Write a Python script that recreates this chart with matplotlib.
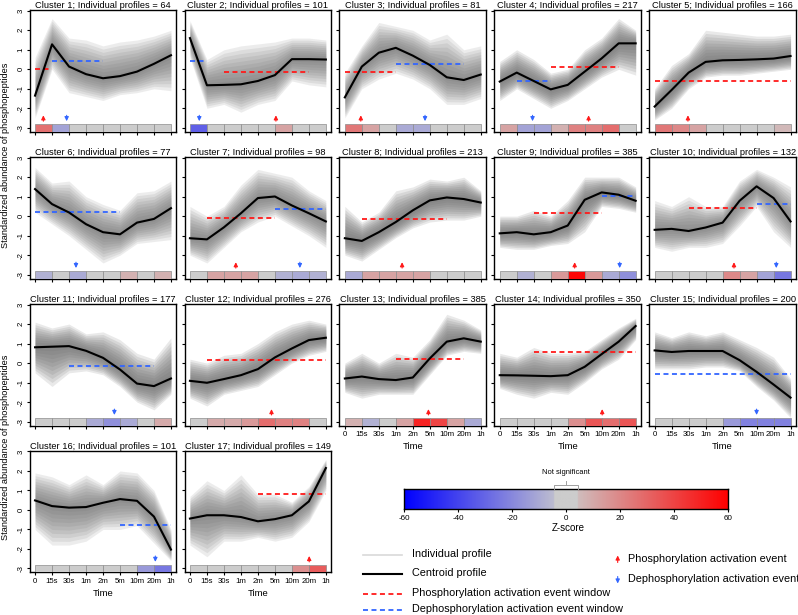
import numpy as np
import matplotlib
matplotlib.use('Agg')
import matplotlib.pyplot as plt
from matplotlib.colors import ListedColormap

plt.rcParams['font.family'] = ['Liberation Sans', 'DejaVu Sans']
plt.rcParams['lines.scale_dashes'] = False

# ---------------- data ----------------
time_labels = ['0', '15s', '30s', '1m', '2m', '5m', '10m', '20m', '1h']
cluster_sizes = [64, 101, 81, 217, 166, 77, 98, 213, 385, 132, 177, 276, 385, 350, 200, 101, 149]

centroids = [
    [-1.35, 1.28, 0.14, -0.25, -0.46, -0.35, -0.12, 0.28, 0.72],
    [1.6, -0.82, -0.8, -0.77, -0.6, -0.3, 0.52, 0.52, 0.5],
    [-1.44, 0.14, 0.85, 1.1, 0.7, 0.22, -0.41, -0.55, -0.27],
    [-0.63, -0.17, -0.6, -1.03, -0.8, -0.12, 0.56, 1.33, 1.33],
    [-1.91, -1.06, -0.17, 0.38, 0.46, 0.48, 0.51, 0.55, 0.68],
    [1.39, 0.62, 0.19, -0.41, -0.82, -0.93, -0.33, -0.14, 0.41],
    [-1.13, -1.19, -0.57, 0.15, 0.93, 1.01, 0.55, 0.15, -0.27],
    [-1.13, -1.27, -0.82, -0.3, 0.3, 0.81, 0.96, 0.88, 0.7],
    [-0.88, -0.82, -0.93, -0.82, -0.48, 0.84, 1.22, 1.1, 0.79],
    [-0.7, -0.65, -0.76, -0.58, -0.33, 0.79, 1.53, 0.93, -0.27],
    [0.81, 0.84, 0.87, 0.63, 0.27, -0.33, -1.05, -1.18, -0.79],
    [-0.91, -1.01, -0.82, -0.62, -0.31, 0.29, 0.75, 1.18, 1.3],
    [-0.79, -0.69, -0.82, -0.87, -0.74, 0.24, 1.1, 1.27, 1.1],
    [-0.62, -0.63, -0.65, -0.67, -0.62, -0.19, 0.46, 1.1, 1.9],
    [0.65, 0.57, 0.62, 0.62, 0.62, 0.15, -0.45, -1.1, -1.77],
    [0.49, 0.2, 0.12, 0.15, 0.37, 0.56, 0.47, -0.34, -2.03],
    [-0.44, -0.27, -0.27, -0.36, -0.58, -0.47, -0.27, 0.44, 2.15],
]

profiles_upper = [
    [0.6, 2.6, 1.6, 1.5, 1.2, 1.4, 1.5, 1.7, 2.0],
    [2.5, 0.5, 1.0, 1.2, 1.3, 1.4, 1.6, 1.6, 1.5],
    [-0.2, 1.2, 2.4, 2.2, 2.0, 1.5, 1.8, 1.0, 1.2],
    [0.4, 1.0, 0.5, -0.2, 0.0, 1.0, 1.6, 2.6, 2.0],
    [-1.0, 0.2, 0.8, 2.0, 1.9, 1.8, 1.7, 1.7, 1.8],
    [2.5, 1.7, 1.8, 1.0, 0.6, 0.3, 1.2, 1.3, 1.8],
    [0.5, 0.0, 0.5, 1.6, 2.4, 2.2, 2.0, 1.3, 0.8],
    [0.5, -0.3, 0.2, 1.3, 1.5, 1.9, 1.8, 2.0, 1.3],
    [0.0, 0.0, 0.3, 0.0, 0.8, 2.0, 2.0, 2.0, 1.5],
    [0.8, 0.5, 1.0, 0.5, 0.5, 1.8, 2.4, 2.0, 1.5],
    [2.1, 1.8, 2.0, 1.5, 1.6, 1.2, 0.5, 0.2, 1.3],
    [0.2, 0.0, 0.4, 0.5, 1.0, 1.6, 2.0, 2.2, 2.0],
    [0.0, 0.5, 0.0, 0.5, 0.3, 1.2, 2.5, 2.2, 1.7],
    [0.5, 0.3, 0.8, 0.5, 0.5, 0.6, 1.2, 1.8, 2.3],
    [1.6, 1.3, 1.6, 1.4, 1.6, 1.2, 0.8, 0.3, -0.8],
    [1.9, 1.7, 1.3, 1.8, 1.3, 2.0, 1.9, 1.0, -1.0],
    [0.7, 1.5, 1.0, 1.8, 0.8, 0.8, 0.4, 1.2, 2.6],
]

profiles_lower = [
    [-2.5, 0.0, -1.2, -1.4, -1.6, -1.3, -1.2, -1.0, -1.1],
    [0.6, -2.0, -1.8, -2.2, -1.8, -1.6, -0.6, -0.8, -0.9],
    [-2.5, -1.0, -0.5, -0.2, -0.5, -1.0, -1.8, -1.8, -1.5],
    [-1.6, -1.0, -1.5, -2.0, -1.6, -1.0, -0.4, 0.0, -0.3],
    [-2.6, -2.0, -1.0, -0.4, -0.3, -0.3, -0.2, -0.1, 0.0],
    [0.2, -0.4, -1.0, -1.7, -2.4, -2.0, -1.4, -1.3, -1.2],
    [-2.0, -2.4, -1.6, -0.8, -0.3, 0.0, -0.5, -1.0, -1.6],
    [-2.0, -2.3, -1.7, -1.1, -0.6, -0.3, -0.2, -0.2, 0.0],
    [-1.6, -1.7, -1.7, -1.5, -1.4, -0.8, 0.5, 0.4, 0.2],
    [-1.6, -1.8, -1.6, -1.6, -1.4, -0.5, 0.5, -0.8, -1.6],
    [-0.5, -1.2, -0.5, -0.4, -0.6, -1.2, -2.0, -2.4, -1.6],
    [-1.8, -2.2, -1.6, -1.4, -1.2, -0.6, 0.0, 0.4, 0.6],
    [-1.5, -1.8, -1.6, -1.6, -1.6, -0.6, 0.4, 0.6, 0.5],
    [-1.3, -1.6, -1.8, -1.5, -1.6, -1.0, -0.3, 0.2, 1.2],
    [-0.3, -0.3, -0.3, -0.2, -0.2, -0.4, -1.2, -1.9, -2.8],
    [-1.0, -1.8, -1.8, -1.6, -1.0, -1.0, -0.8, -1.7, -2.6],
    [-1.8, -2.4, -1.6, -1.6, -1.4, -1.6, -1.4, -0.6, 1.0],
]

# (start time index, end time index, level) ; None = no window
phos_windows = [(1, 2, 0.0), (3, 8, -0.12), (1, 4, -0.14), (4, 8, 0.14), (1, 9, -0.58),
                None, (2, 6, -0.07), (2, 7, -0.14), (3, 7, 0.15), (3, 7, 0.41),
                None, (2, 9, 0.15), (4, 8, 0.21), (3, 9, 0.58), None, None, (5, 9, 0.8)]
dephos_windows = [(2, 5, 0.40), (1, 2, 0.40), (4, 8, 0.26), (2, 4, -0.6), None,
                  (1, 6, 0.22), (6, 9, 0.38), None, (7, 9, 1.01), (7, 9, 0.64),
                  (3, 8, -0.17), None, None, None, (1, 9, -0.57), (6, 9, -0.75), None]

phos_events = [1.49, 6.06, 1.94, 6.23, 2.96, None, 3.7, 4.37, 5.41, 5.67,
               None, 5.8, 5.92, 7.03, None, None, 8.02]
dephos_events = [2.86, 1.55, 5.72, 2.93, None, 3.41, 7.47, None, 8.06, 8.16,
                 5.67, None, None, None, 7.0, 8.08, None]

# Z-scores of the 8 time intervals
strip_z = [
    [27, -12, 0, 0, 0, 0, 0, 0],
    [-32, 0, 0, 0, 0, 12, 0, 0],
    [25, 12, 0, -10, -10, 0, 0, 0],
    [12, -12, -12, 8, 22, 22, 28, 0],
    [25, 20, 12, 0, 0, 0, 0, 6],
    [-8, 0, -10, 0, 0, 8, 0, 8],
    [0, 12, 12, 12, 0, -8, -10, -8],
    [-10, 12, 12, 12, 12, 0, 0, 0],
    [0, -8, 0, 15, 58, 15, -10, -18],
    [0, 0, 0, 0, 20, 12, -12, -25],
    [0, 0, 0, -10, -18, -10, 0, 10],
    [0, 10, 10, 15, 28, 22, 22, 0],
    [8, -8, 0, 12, 50, 40, 12, -10],
    [0, 0, 0, 0, 18, 35, 28, 35],
    [0, 0, 0, 0, -15, -22, -22, -22],
    [0, 0, 0, 0, 0, 0, -15, -25],
    [0, 0, 0, 0, 0, 0, 18, 33],
]
z_ticks = [-60, -40, -20, 0, 20, 40, 60]
not_sig = 4.4

# ---------------- styling ----------------
RED = '#ff1a1a'
BLUE = '#3366ff'
GRAY = np.array([0.8, 0.8, 0.8])


def zcolor(z):
    if abs(z) < not_sig:
        return tuple(GRAY)
    f = min(abs(z), 60) / 60.0
    tgt = np.array([1, 0, 0]) if z > 0 else np.array([0, 0, 1])
    return tuple(GRAY + (tgt - GRAY) * f)


W, H = 798, 615
fig = plt.figure(figsize=(W / 100, H / 100), dpi=100)

left0, pitch_x, aw = 29.6, 154.9, 146.8
top0, pitch_y, ah = 9.8, 146.9, 121.9
YLO, YHI = -3.2, 3.05

tx = np.arange(1, 10)
n = len(centroids)
band_levels = np.linspace(1.0, 0.1, 10)
for i in range(n):
    r, c = divmod(i, 5)
    l = left0 + c * pitch_x
    t = top0 + r * pitch_y
    ax = fig.add_axes([l / W, 1 - (t + ah) / H, aw / W, ah / H])
    cen = np.array(centroids[i])
    up = np.array(profiles_upper[i])
    lo = np.array(profiles_lower[i])
    alpha = 0.12 if cluster_sizes[i] < 150 else 0.145
    for frac in band_levels:
        ax.fill_between(tx, cen + frac * (lo - cen), cen + frac * (up - cen),
                        color='#6a6a6a', alpha=alpha, lw=0)

    ax.bar(np.arange(1, 9) + 0.5, 0.38, bottom=YLO, width=1.0,
           color=[zcolor(z) for z in strip_z[i]], edgecolor='#8c8c8c', lw=0.5, zorder=3)

    if phos_windows[i] is not None:
        a, b, y = phos_windows[i]
        ax.plot([a, b], [y, y], color=RED, lw=1.3, dashes=(3.6, 2.5), zorder=4)
    if dephos_windows[i] is not None:
        a, b, y = dephos_windows[i]
        ax.plot([a, b], [y, y], color=BLUE, lw=1.3, dashes=(3.6, 2.5), zorder=4)

    ax.plot(tx, cen, color='black', lw=1.5, zorder=5)

    if phos_events[i] is not None:
        ax.annotate('', xy=(phos_events[i], -2.36), xytext=(phos_events[i], -2.66),
                    arrowprops=dict(arrowstyle='-|>', color=RED, lw=0.8, mutation_scale=6,
                                    shrinkA=0, shrinkB=0), zorder=6)
    if dephos_events[i] is not None:
        ax.annotate('', xy=(dephos_events[i], -2.66), xytext=(dephos_events[i], -2.36),
                    arrowprops=dict(arrowstyle='-|>', color=BLUE, lw=0.8, mutation_scale=6,
                                    shrinkA=0, shrinkB=0), zorder=6)

    ax.set_xlim(0.68, 9.32)
    ax.set_ylim(YLO, YHI)
    ax.set_xticks(tx)
    ax.set_yticks(range(-3, 4))
    ax.tick_params(direction='out', length=2.5, width=0.8, labelsize=5.6, pad=1.2)
    bottom_panel = (i + 5) >= n
    if bottom_panel:
        ax.set_xticklabels(time_labels)
        ax.annotate('Time', xy=(0.5, 0), xycoords='axes fraction', xytext=(0, -15.2),
                    textcoords='offset points', ha='center', va='center', fontsize=6.8)
    else:
        ax.set_xticklabels([])
    if c == 0:
        ax.set_yticklabels([str(v) for v in range(-3, 4)], rotation=90, va='center')
    else:
        ax.set_yticklabels([])
    for s in ax.spines.values():
        s.set_linewidth(1.0)
        s.set_color('black')
    ax.set_title(f'Cluster {i + 1}; Individual profiles = {cluster_sizes[i]}',
                 fontsize=6.7, pad=1.3)

# y labels
for yc in (155, 447):
    fig.text(6 / W, 1 - yc / H, 'Standardized abundance of phosphopeptides',
             rotation=90, ha='center', va='center', fontsize=6.6)

# colorbar
zz = np.linspace(-60, 60, 481)
cmap = ListedColormap([zcolor(z) for z in zz])
cax = fig.add_axes([404 / W, 1 - 509 / H, 324 / W, 20 / H])
cax.imshow(zz[None, :], aspect='auto', cmap=cmap, extent=(-60, 60, 0, 1), vmin=-60, vmax=60)
cax.set_yticks([])
cax.set_xticks(z_ticks)
cax.set_xticklabels([str(v) for v in z_ticks])
cax.tick_params(axis='x', direction='out', length=2.5, width=0.8, labelsize=5.8, pad=1.5)
for s in cax.spines.values():
    s.set_linewidth(1.0)

# overlay for legend & annotations
ov = fig.add_axes([0, 0, 1, 1])
ov.set_xlim(0, W)
ov.set_ylim(H, 0)
ov.axis('off')
ov.patch.set_alpha(0)

ov.plot([554, 554, 578, 578], [489, 485, 485, 489], color='#a0a0a0', lw=0.7)
ov.plot([566, 566], [485, 481], color='#a0a0a0', lw=0.7)
ov.text(566, 473, 'Not significant', ha='center', va='center', fontsize=5.4)
ov.text(568, 528, 'Z-score', ha='center', va='center', fontsize=7)

lx0, lx1, ltx = 363, 402, 412
ov.plot([lx0, lx1], [555, 555], color='#d9d9d9', lw=1.2)
ov.text(ltx, 554, 'Individual profile', va='center', fontsize=7.8)
ov.plot([lx0, lx1], [574, 574], color='black', lw=1.5)
ov.text(ltx, 572.5, 'Centroid profile', va='center', fontsize=7.8)
ov.plot([lx0, lx1], [594, 594], color=RED, lw=1.3, dashes=(3.6, 2.5))
ov.text(ltx, 592.5, 'Phosphorylation activation event window', va='center', fontsize=7.8)
ov.plot([lx0, lx1], [610, 610], color=BLUE, lw=1.3, dashes=(3.6, 2.5))
ov.text(ltx, 608.5, 'Dephosphorylation activation event window', va='center', fontsize=7.8)

ov.annotate('', xy=(617.7, 555.5), xytext=(617.7, 562.5),
            arrowprops=dict(arrowstyle='-|>', color=RED, lw=0.8, mutation_scale=6, shrinkA=0, shrinkB=0))
ov.text(628, 559, 'Phosphorylation activation event', va='center', fontsize=7.8)
ov.annotate('', xy=(617.7, 583.5), xytext=(617.7, 576.5),
            arrowprops=dict(arrowstyle='-|>', color=BLUE, lw=0.8, mutation_scale=6, shrinkA=0, shrinkB=0))
ov.text(628, 579.5, 'Dephosphorylation activation event', va='center', fontsize=7.8)

fig.savefig('out.png', dpi=100)
